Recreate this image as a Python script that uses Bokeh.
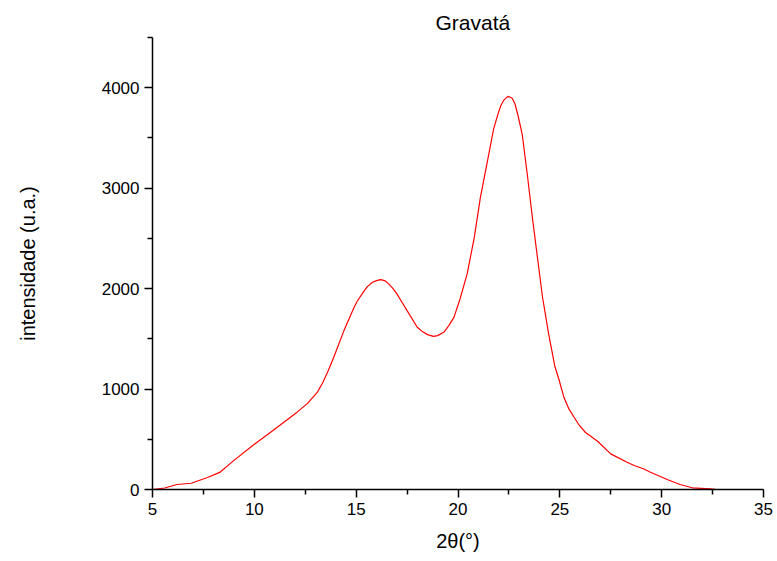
from bokeh.plotting import figure
from bokeh.models import Range1d, FixedTicker, Title
from bokeh.embed import file_html
from bokeh.resources import INLINE

# Diffractogram of the Gravatá sample: 2θ (degrees) vs. intensity (a.u.)
two_theta = [5.0, 5.6, 6.2, 6.9, 7.7, 8.3, 9.0, 10.0, 10.8, 11.45, 12.1, 12.6,
             13.1, 13.35, 13.6, 13.9, 14.4, 14.9, 15.05, 15.4, 15.55, 15.8,
             16.0, 16.2, 16.4, 16.6, 16.8, 17.0, 17.25, 17.5, 18.0, 18.25,
             18.5, 18.8, 19.0, 19.3, 19.55, 19.8, 20.1, 20.45, 20.8, 21.1,
             21.45, 21.75, 21.95, 22.1, 22.25, 22.45, 22.65, 22.8, 22.95,
             23.15, 23.4, 23.65, 23.9, 24.15, 24.45, 24.75, 24.95, 25.2,
             25.45, 25.7, 25.95, 26.25, 26.85, 27.5, 28.3, 28.65, 29.1,
             29.45, 30.3, 30.9, 31.5, 32.4, 32.7, 35.0]
intensity = [0, 15, 50, 62, 120, 170, 290, 450, 570, 670, 770, 855,
             970, 1060, 1170, 1317, 1582, 1814, 1874, 1980, 2020, 2063,
             2080, 2090, 2080, 2047, 2003, 1947, 1864, 1781, 1615, 1572,
             1542, 1525, 1532, 1565, 1632, 1714, 1897, 2146, 2510, 2908,
             3274, 3590, 3730, 3821, 3877, 3914, 3897, 3838, 3721,
             3539, 3141, 2710, 2312, 1914, 1549, 1230, 1100, 918,
             800, 719, 640, 570, 480, 355, 272, 239, 206,
             172, 97, 50, 17, 7, 0, 0]

x_major = [5, 10, 15, 20, 25, 30, 35]
x_minor = [7.5, 12.5, 17.5, 22.5, 27.5, 32.5]
y_major = [0, 1000, 2000, 3000, 4000]
y_minor = [500, 1500, 2500, 3500, 4500]

FONT = "Liberation Sans"

p = figure(width=777, height=561, output_backend="svg", toolbar_location=None,
           x_range=Range1d(5, 35), y_range=Range1d(0, 4500),
           min_border_left=152, min_border_right=14,
           min_border_top=37, min_border_bottom=72)

p.title = Title(text="Gravatá", align="left", offset=283,
                text_font=FONT, text_font_size="21px",
                text_font_style="normal", text_color="black", standoff=8)

p.line(two_theta, intensity, line_color="#ff0000", line_width=1.2,
       line_join="round")

p.grid.visible = False
p.outline_line_color = None
p.background_fill_color = "white"
p.border_fill_color = "white"

p.xaxis.ticker = FixedTicker(ticks=x_major, minor_ticks=x_minor)
p.yaxis.ticker = FixedTicker(ticks=y_major, minor_ticks=y_minor)

for ax in (p.xaxis[0], p.yaxis[0]):
    ax.axis_line_width = 1.5
    ax.axis_line_color = "black"
    ax.major_tick_line_width = 1.5
    ax.minor_tick_line_width = 1.5
    ax.major_tick_line_color = "black"
    ax.minor_tick_line_color = "black"
    ax.major_tick_in = 0
    ax.major_tick_out = 8
    ax.minor_tick_in = 0
    ax.minor_tick_out = 5
    ax.major_label_text_font = FONT
    ax.major_label_text_font_size = "17px"
    ax.major_label_text_color = "black"
    ax.axis_label_text_font = FONT
    ax.axis_label_text_font_size = "20px"
    ax.axis_label_text_font_style = "normal"
    ax.axis_label_text_color = "black"

p.xaxis.axis_label = "2θ(°)"
p.yaxis.axis_label = "intensidade (u.a.)"
p.xaxis.major_label_standoff = 5
p.yaxis.major_label_standoff = 5
p.xaxis.axis_label_standoff = 12
p.yaxis.axis_label_standoff = 60

open("out.html", "w").write(file_html(p, INLINE))
